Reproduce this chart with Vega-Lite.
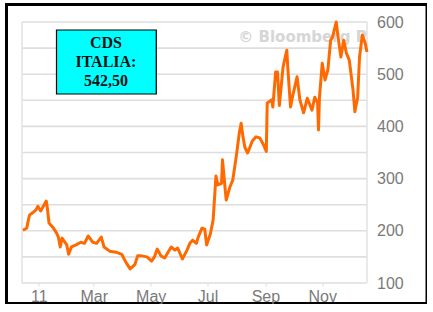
{
  "$schema": "https://vega.github.io/schema/vega-lite/v6.json",
  "width": 420.5,
  "height": 299,
  "autosize": {"type": "none"},
  "padding": {"left": 6.5, "top": 4.5, "right": 0, "bottom": 0},
  "background": "white",
  "config": {"view": {"stroke": "black", "strokeWidth": 3}},
  "datasets": {
    "cds": [
      {"date": "2010-12-15", "v": 201}, {"date": "2010-12-19", "v": 205}, {"date": "2010-12-22", "v": 230},
      {"date": "2010-12-25", "v": 234}, {"date": "2010-12-29", "v": 240}, {"date": "2010-12-31", "v": 247},
      {"date": "2011-01-03", "v": 238}, {"date": "2011-01-05", "v": 244}, {"date": "2011-01-09", "v": 257},
      {"date": "2011-01-10", "v": 246}, {"date": "2011-01-12", "v": 215}, {"date": "2011-01-16", "v": 207},
      {"date": "2011-01-20", "v": 196}, {"date": "2011-01-22", "v": 188}, {"date": "2011-01-24", "v": 169},
      {"date": "2011-01-26", "v": 186}, {"date": "2011-01-31", "v": 173}, {"date": "2011-02-02", "v": 155},
      {"date": "2011-02-05", "v": 169}, {"date": "2011-02-10", "v": 173}, {"date": "2011-02-15", "v": 178},
      {"date": "2011-02-19", "v": 176}, {"date": "2011-02-23", "v": 190}, {"date": "2011-02-28", "v": 178},
      {"date": "2011-03-04", "v": 176}, {"date": "2011-03-09", "v": 188}, {"date": "2011-03-12", "v": 169},
      {"date": "2011-03-18", "v": 161}, {"date": "2011-03-25", "v": 159}, {"date": "2011-03-31", "v": 155},
      {"date": "2011-04-02", "v": 148}, {"date": "2011-04-05", "v": 138}, {"date": "2011-04-09", "v": 127},
      {"date": "2011-04-14", "v": 135}, {"date": "2011-04-17", "v": 152}, {"date": "2011-04-21", "v": 152},
      {"date": "2011-04-27", "v": 150}, {"date": "2011-05-02", "v": 142}, {"date": "2011-05-05", "v": 150},
      {"date": "2011-05-08", "v": 165}, {"date": "2011-05-12", "v": 152}, {"date": "2011-05-16", "v": 148},
      {"date": "2011-05-19", "v": 157}, {"date": "2011-05-23", "v": 169}, {"date": "2011-05-27", "v": 163},
      {"date": "2011-05-30", "v": 167}, {"date": "2011-06-04", "v": 146}, {"date": "2011-06-09", "v": 163},
      {"date": "2011-06-12", "v": 176}, {"date": "2011-06-15", "v": 182}, {"date": "2011-06-19", "v": 176},
      {"date": "2011-06-21", "v": 188}, {"date": "2011-06-25", "v": 205}, {"date": "2011-06-28", "v": 203},
      {"date": "2011-06-30", "v": 173}, {"date": "2011-07-04", "v": 194}, {"date": "2011-07-07", "v": 221},
      {"date": "2011-07-10", "v": 305}, {"date": "2011-07-12", "v": 288}, {"date": "2011-07-16", "v": 291},
      {"date": "2011-07-17", "v": 336}, {"date": "2011-07-21", "v": 259}, {"date": "2011-07-25", "v": 284},
      {"date": "2011-07-28", "v": 297}, {"date": "2011-08-01", "v": 345}, {"date": "2011-08-04", "v": 387},
      {"date": "2011-08-06", "v": 406}, {"date": "2011-08-08", "v": 380}, {"date": "2011-08-10", "v": 360},
      {"date": "2011-08-13", "v": 349}, {"date": "2011-08-18", "v": 372}, {"date": "2011-08-22", "v": 380},
      {"date": "2011-08-26", "v": 378}, {"date": "2011-08-30", "v": 365}, {"date": "2011-09-02", "v": 352},
      {"date": "2011-09-03", "v": 445}, {"date": "2011-09-08", "v": 451}, {"date": "2011-09-09", "v": 437},
      {"date": "2011-09-12", "v": 504}, {"date": "2011-09-14", "v": 504}, {"date": "2011-09-16", "v": 440},
      {"date": "2011-09-20", "v": 514}, {"date": "2011-09-24", "v": 546}, {"date": "2011-09-25", "v": 514},
      {"date": "2011-09-28", "v": 437}, {"date": "2011-09-30", "v": 456}, {"date": "2011-10-05", "v": 495},
      {"date": "2011-10-08", "v": 451}, {"date": "2011-10-12", "v": 426}, {"date": "2011-10-16", "v": 454},
      {"date": "2011-10-21", "v": 431}, {"date": "2011-10-24", "v": 456}, {"date": "2011-10-27", "v": 445},
      {"date": "2011-10-28", "v": 393}, {"date": "2011-10-29", "v": 455}, {"date": "2011-11-01", "v": 521},
      {"date": "2011-11-04", "v": 489}, {"date": "2011-11-07", "v": 508}, {"date": "2011-11-10", "v": 565},
      {"date": "2011-11-12", "v": 571}, {"date": "2011-11-16", "v": 600}, {"date": "2011-11-18", "v": 571},
      {"date": "2011-11-21", "v": 533}, {"date": "2011-11-24", "v": 565}, {"date": "2011-11-27", "v": 540},
      {"date": "2011-11-30", "v": 527}, {"date": "2011-12-04", "v": 470}, {"date": "2011-12-06", "v": 428},
      {"date": "2011-12-09", "v": 456}, {"date": "2011-12-11", "v": 533}, {"date": "2011-12-14", "v": 575},
      {"date": "2011-12-17", "v": 560}, {"date": "2011-12-19", "v": 542.5}
    ],
    "grid": [
      {"g": 100}, {"g": 150}, {"g": 200}, {"g": 250}, {"g": 300}, {"g": 350},
      {"g": 400}, {"g": 450}, {"g": 500}, {"g": 550}, {"g": 600}
    ],
    "frame": [{"d": "2010-12-14"}, {"d": "2011-12-19"}]
  },
  "layer": [
    {
      "data": {"name": "grid"},
      "mark": {"type": "rule", "color": "#dedede", "strokeWidth": 1.6},
      "encoding": {
        "y": {"field": "g", "type": "quantitative"},
        "x": {"datum": {"year": 2010, "month": 12, "date": 14, "utc": true}, "type": "temporal"},
        "x2": {"datum": {"year": 2011, "month": 12, "date": 19, "utc": true}}
      }
    },
    {
      "data": {"name": "frame"},
      "mark": {"type": "rule", "color": "#e2e2e2", "strokeWidth": 1.5},
      "encoding": {
        "x": {"field": "d", "type": "temporal"},
        "y": {"datum": 100, "type": "quantitative"},
        "y2": {"datum": 600}
      }
    },
    {
      "data": {"values": [{"t": "© Bloomberg P"}]},
      "mark": {"type": "text", "font": "DejaVu Sans", "fontWeight": "bold", "fontSize": 15, "color": "#d6d6d6", "align": "left", "baseline": "middle"},
      "encoding": {
        "x": {"datum": {"year": 2011, "month": 8, "date": 3, "utc": true}, "type": "temporal"},
        "y": {"datum": 571, "type": "quantitative"},
        "text": {"field": "t"}
      }
    },
    {
      "data": {"name": "cds"},
      "mark": {"type": "line", "color": "#ff6a00", "strokeWidth": 3, "strokeJoin": "round"},
      "encoding": {
        "x": {
          "field": "date", "type": "temporal",
          "scale": {
            "type": "utc",
            "domain": [{"year": 2010, "month": 12, "date": 14, "utc": true}, {"year": 2011, "month": 12, "date": 19, "utc": true}],
            "range": [15.5, 360.5]
          },
          "axis": {
            "title": null, "orient": "bottom", "offset": -20.5,
            "values": [
              {"year": 2011, "month": 1, "date": 1, "utc": true}, {"year": 2011, "month": 3, "date": 1, "utc": true},
              {"year": 2011, "month": 5, "date": 1, "utc": true}, {"year": 2011, "month": 7, "date": 1, "utc": true},
              {"year": 2011, "month": 9, "date": 1, "utc": true}, {"year": 2011, "month": 11, "date": 1, "utc": true}
            ],
            "labelExpr": "utcmonth(datum.value) == 0 ? utcFormat(datum.value, '%y') : utcFormat(datum.value, '%b')",
            "domain": false, "grid": false, "ticks": true, "tickSize": 3, "tickColor": "#dddddd",
            "labelPadding": 2, "labelFont": "Liberation Sans", "labelFontSize": 16, "labelColor": "#7a7a7a",
            "labelFlush": false, "labelOverlap": false
          }
        },
        "y": {
          "field": "v", "type": "quantitative",
          "scale": {"domain": [100, 600], "range": [278.5, 17.5], "nice": false, "zero": false},
          "axis": {
            "title": null, "orient": "right", "offset": -60.5,
            "values": [100, 150, 200, 250, 300, 350, 400, 450, 500, 550, 600],
            "domain": false, "grid": false, "ticks": false, "labelPadding": 10,
            "labelFont": "Liberation Sans", "labelFontSize": 16, "labelColor": "#7a7a7a",
            "labelFlush": false, "labelOverlap": false
          }
        }
      }
    },
    {
      "data": {"values": [{"label": "CDS ITALIA"}]},
      "mark": {"type": "rect", "fill": "#00ffff", "stroke": "#000000", "strokeWidth": 1.2},
      "encoding": {
        "x": {"datum": {"year": 2011, "month": 1, "date": 20, "utc": true}, "type": "temporal"},
        "x2": {"datum": {"year": 2011, "month": 5, "date": 7, "utc": true}},
        "y": {"datum": 584.7, "type": "quantitative"},
        "y2": {"datum": 462.1}
      }
    },
    {
      "data": {"values": [{"label": "CDS ITALIA"}]},
      "mark": {"type": "text", "text": ["CDS", "ITALIA:", "542,50"], "font": "Liberation Serif", "fontWeight": "bold", "fontSize": 16, "lineHeight": 19, "color": "#111111", "align": "center", "baseline": "middle"},
      "encoding": {
        "x": {"datum": {"year": 2011, "month": 3, "date": 14, "utc": true}, "type": "temporal"},
        "y": {"datum": 560, "type": "quantitative"}
      }
    }
  ]
}
